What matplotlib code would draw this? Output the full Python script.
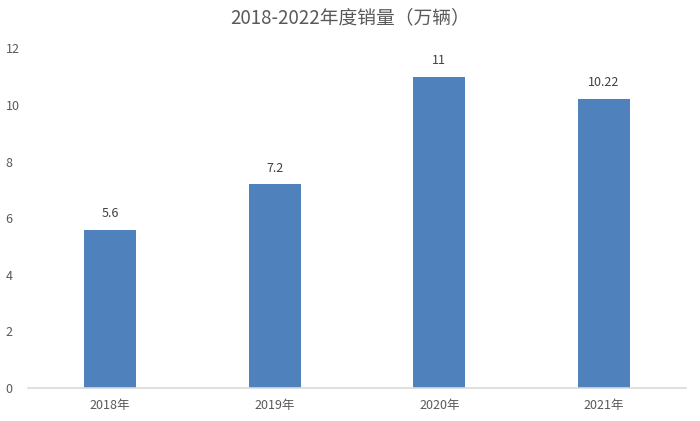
import matplotlib
matplotlib.use("Agg")
import matplotlib.pyplot as plt
import numpy as np

plt.rcParams['font.family'] = ['Noto Sans CJK SC', 'DejaVu Sans']

years = ["2018年", "2019年", "2020年", "2021年"]
sales = [5.6, 7.2, 11, 10.22]
value_labels = ["5.6", "7.2", "11", "10.22"]
title = "2018-2022年度销量（万辆）"

text_color = "#595959"
bar_color = "#4F81BD"

fig = plt.figure(figsize=(7, 4.21), dpi=100)
ax = fig.add_axes([0.0396, 0.0784, 0.9408, 0.8066])

x = np.arange(len(years))
bars = ax.bar(x, sales, width=0.315, color=bar_color, zorder=2)

for xi, v, lab in zip(x, sales, value_labels):
    ax.annotate(lab, (xi, v), xytext=(0, 7), textcoords="offset points",
                ha="center", va="bottom", fontsize=9, color="#404040")

ax.set_xlim(-0.5, len(years) - 0.5)
ax.set_ylim(0, 12)
ax.set_yticks(range(0, 13, 2))
ax.set_xticks(x)
ax.set_xticklabels(years)

for s in ["top", "right", "left"]:
    ax.spines[s].set_visible(False)
ax.spines["bottom"].set_color("#D9D9D9")
ax.spines["bottom"].set_linewidth(1.2)

ax.tick_params(axis="both", length=0, labelsize=9, colors=text_color)
ax.tick_params(axis="y", pad=16)
ax.tick_params(axis="x", pad=8)
for lab in ax.get_yticklabels():
    lab.set_horizontalalignment("left")

fig.text(0.5, 0.957, title, ha="center", va="center", fontsize=13.5, color=text_color)

plt.savefig("out.png", dpi=100)
plt.close()
